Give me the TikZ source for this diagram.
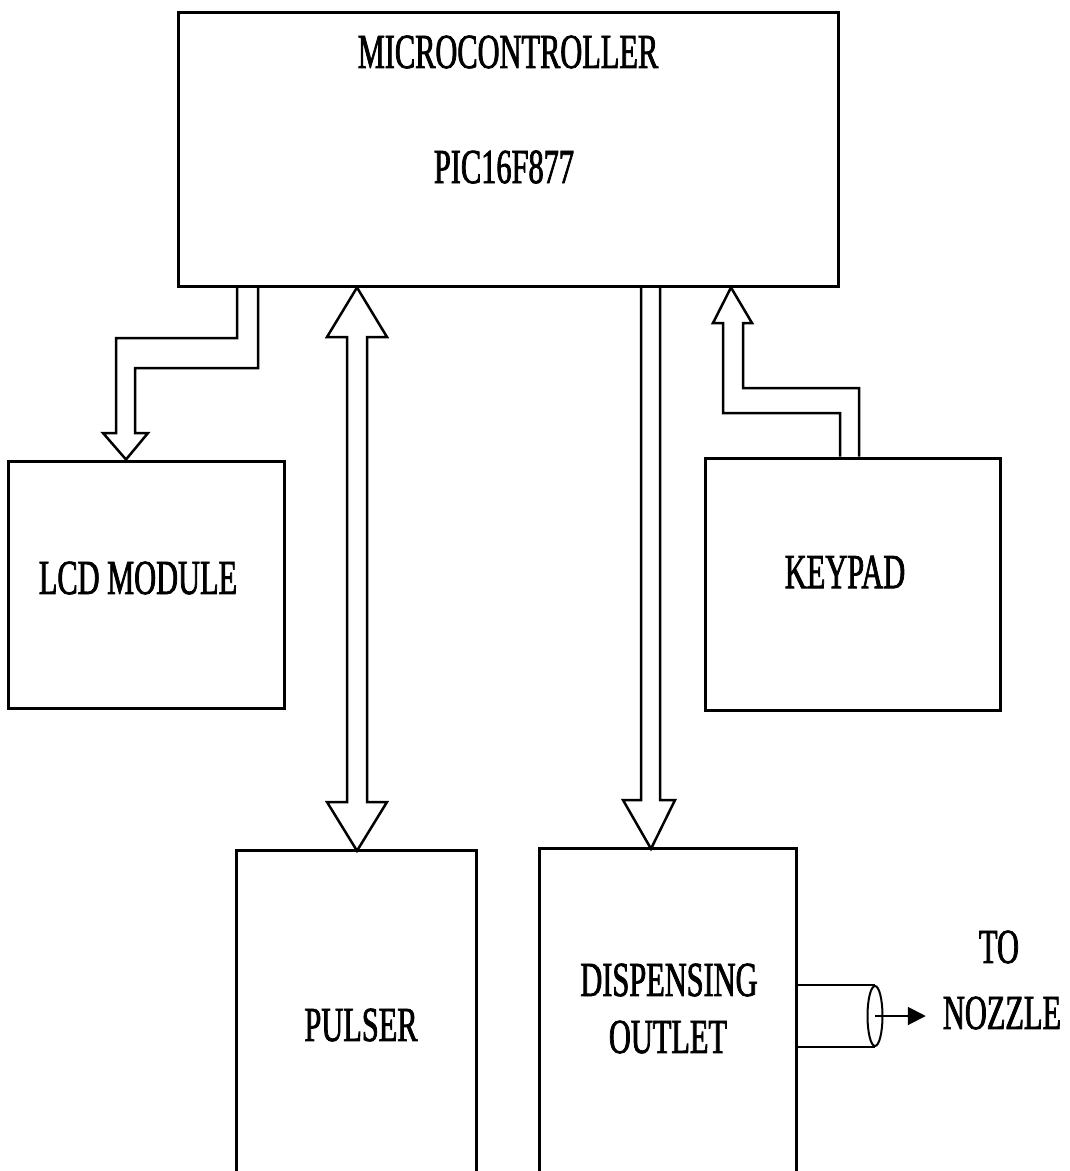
\documentclass[tikz,border=0pt]{standalone}
\usepackage{fontspec}
\setmainfont[FakeStretch=0.62,FakeBold=1.5]{Liberation Serif}
\usetikzlibrary{arrows.meta,shapes.geometric}
\begin{document}
\begin{tikzpicture}[x=1pt,y=-1pt,
  blk/.style={draw,line width=3pt,rectangle,inner sep=0pt},
  openblk/.style={rectangle,inner sep=0pt},
  lbl/.style={font=\fontsize{49}{54}\selectfont,inner sep=0pt},
  barrow/.style={draw,line width=2.5pt,line join=miter}]
\useasboundingbox (0,0) rectangle (1070,1171);
% boxes
\node[blk,minimum width=660pt,minimum height=274pt] (mcu) at (508,149) {};
\node[blk,minimum width=276pt,minimum height=247pt] (lcd) at (146,584.5) {};
\node[blk,minimum width=295pt,minimum height=252pt] (keypad) at (852.5,584) {};
\node[openblk,minimum width=239pt,minimum height=322pt] (pulser) at (356.5,1012) {};
\node[openblk,minimum width=256pt,minimum height=324pt] (disp) at (668,1011) {};
\draw[line width=3pt] (pulser.south west) -- (pulser.north west) -- (pulser.north east) -- (pulser.south east);
\draw[line width=3pt] (disp.south west) -- (disp.north west) -- (disp.north east) -- (disp.south east);
% labels
\node[lbl] (mcut) at (508,52) {MICROCONTROLLER};
\node[lbl] (pic) at (504,167) {PIC16F877};
\node[lbl] (lcdt) at (138,578) {LCD MODULE};
\node[lbl] (keyt) at (845,572) {KEYPAD};
\node[lbl] (pulst) at (361,1025) {PULSER};
\node[lbl] (dispt) at (669,980) {DISPENSING};
\node[lbl] (outt) at (668,1037) {OUTLET};
\node[lbl] (to) at (999,947) {TO};
\node[lbl] (noz) at (1002,1013) {NOZZLE};
% block arrows
\draw[barrow] (357,0 |- mcu.south) -- (387,337) -- (367,337) -- (367,802) -- (387,802)
  -- (357,0 |- pulser.north) -- (327,802) -- (347,802) -- (347,337) -- (327,337) -- cycle;
\draw[barrow] (641,0 |- mcu.south) -- (641,800) -- (623,800) -- (651,0 |- disp.north)
  -- (675,800) -- (660,800) -- (660,0 |- mcu.south);
\draw[barrow] (237,0 |- mcu.south) -- (237,338) -- (116,338) -- (116,433) -- (103,433)
  -- (126,0 |- lcd.north) -- (148,433) -- (135,433) -- (135,368) -- (258,368) -- (258,0 |- mcu.south);
\draw[barrow] (840,0 |- keypad.north) -- (840,413) -- (723,413) -- (723,323) -- (713,323)
  -- (731,0 |- mcu.south) -- (752,323) -- (743,323) -- (743,388) -- (859,388) -- (859,0 |- keypad.north);
% outlet pipe
\node[draw,ellipse,line width=2pt,minimum width=15pt,minimum height=60pt,inner sep=0pt] (valve) at (875,1016) {};
\draw[line width=2.5pt] (disp.east |- valve.north) -- (valve.north);
\draw[line width=2.5pt] (disp.east |- valve.south) -- (valve.south);
\draw[line width=2pt,-{Triangle[length=18pt,width=18pt]},shorten >=17pt] (valve.center) -- (valve.center -| noz.west);
\end{tikzpicture}
\end{document}
